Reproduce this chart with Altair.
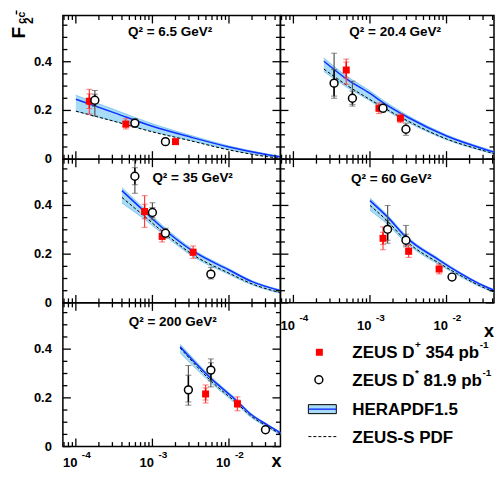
import altair as alt
import pandas as pd

FONT = "Liberation Sans"

# ---------------- data ----------------
TITLES = ["Q² = 6.5 GeV²", "Q² = 20.4 GeV²", "Q² = 35 GeV²", "Q² = 60 GeV²", "Q² = 200 GeV²"]

# ZEUS D+ 354 pb-1 (red squares): x, F2cc, stat (up, down), total (up, down)
P1_RED_X = [1.5e-4, 4.5e-4, 2.0e-3]
P1_RED_Y = [0.238, 0.144, 0.072]
P1_RED_STAT = [(0.03, 0.03), (0.012, 0.012), (0.005, 0.005)]
P1_RED_TOT = [(0.049, 0.053), (0.022, 0.02), (0.008, 0.008)]

P2_RED_X = [4.9e-4, 1.31e-3, 2.5e-3]
P2_RED_Y = [0.366, 0.209, 0.168]
P2_RED_STAT = [(0.033, 0.033), (0.012, 0.012), (0.01, 0.01)]
P2_RED_TOT = [(0.045, 0.058), (0.022, 0.022), (0.018, 0.018)]

P3_RED_X = [7.9e-4, 1.34e-3, 3.4e-3]
P3_RED_Y = [0.375, 0.273, 0.208]
P3_RED_STAT = [(0.03, 0.03), (0.012, 0.012), (0.012, 0.012)]
P3_RED_TOT = [(0.065, 0.065), (0.025, 0.023), (0.025, 0.025)]

P4_RED_X = [1.48e-3, 3.2e-3, 8.0e-3]
P4_RED_Y = [0.265, 0.212, 0.139]
P4_RED_STAT = [(0.025, 0.025), (0.013, 0.013), (0.01, 0.01)]
P4_RED_TOT = [(0.047, 0.047), (0.025, 0.025), (0.02, 0.02)]

P5_RED_X = [4.95e-3, 1.29e-2]
P5_RED_Y = [0.216, 0.176]
P5_RED_STAT = [(0.025, 0.025), (0.015, 0.015)]
P5_RED_TOT = [(0.037, 0.037), (0.028, 0.029)]

# ZEUS D* 81.9 pb-1 (open circles)
P1_BLK_X = [1.77e-4, 5.9e-4, 1.48e-3]
P1_BLK_Y = [0.242, 0.148, 0.072]
P1_BLK_STAT = [(0.025, 0.025), (0.012, 0.012), (0.006, 0.006)]
P1_BLK_TOT = [(0.04, 0.065), (0.018, 0.018), (0.01, 0.01)]

P2_BLK_X = [3.4e-4, 5.9e-4, 1.48e-3, 2.95e-3]
P2_BLK_Y = [0.312, 0.25, 0.209, 0.123]
P2_BLK_STAT = [(0.056, 0.053), (0.03, 0.025), (0.012, 0.012), (0.012, 0.012)]
P2_BLK_TOT = [(0.123, 0.062), (0.07, 0.032), (0.016, 0.016), (0.025, 0.025)]

P3_BLK_X = [5.9e-4, 1.0e-3, 1.48e-3, 5.8e-3]
P3_BLK_Y = [0.52, 0.371, 0.286, 0.118]
P3_BLK_STAT = [(0.035, 0.035), (0.02, 0.02), (0.01, 0.01), (0.012, 0.012)]
P3_BLK_TOT = [(0.064, 0.07), (0.04, 0.03), (0.02, 0.02), (0.028, 0.02)]

P4_BLK_X = [1.7e-3, 2.95e-3, 1.18e-2]
P4_BLK_Y = [0.302, 0.257, 0.106]
P4_BLK_STAT = [(0.037, 0.045), (0.025, 0.02), (0.006, 0.006)]
P4_BLK_TOT = [(0.098, 0.057), (0.061, 0.027), (0.012, 0.012)]

P5_BLK_X = [2.95e-3, 5.8e-3, 3.0e-2]
P5_BLK_Y = [0.233, 0.314, 0.069]
P5_BLK_STAT = [(0.06, 0.05), (0.03, 0.044), (0.006, 0.006)]
P5_BLK_TOT = [(0.1, 0.063), (0.046, 0.069), (0.012, 0.012)]

# HERAPDF1.5 (central line and band) and ZEUS-S PDF (dashed)
P1_CX = [1.0e-4, 3.2e-4, 1.0e-3, 3.2e-3, 1.0e-2, 3.2e-2, 5.0e-2]
P1_HERA = [0.246, 0.19, 0.135, 0.09, 0.05, 0.018, 0.008]
P1_HI = [0.262, 0.203, 0.145, 0.097, 0.054, 0.021, 0.011]
P1_LO = [0.197, 0.156, 0.114, 0.077, 0.040, 0.012, 0.005]
P1_ZEUS = [0.197, 0.155, 0.112, 0.075, 0.038, 0.01, 0.003]

P2_CX = [2.5e-4, 4.9e-4, 1.0e-3, 1.48e-3, 3.2e-3, 1.0e-2, 3.2e-2, 5.0e-2]
P2_HERA = [0.402, 0.33, 0.27, 0.232, 0.17, 0.095, 0.04, 0.022]
P2_HI = [0.415, 0.342, 0.28, 0.242, 0.177, 0.1, 0.044, 0.025]
P2_LO = [0.36, 0.297, 0.24, 0.208, 0.15, 0.08, 0.031, 0.015]
P2_ZEUS = [0.37, 0.305, 0.245, 0.213, 0.155, 0.083, 0.033, 0.016]

P3_CX = [4.0e-4, 7.9e-4, 1.58e-3, 3.4e-3, 1.0e-2, 2.0e-2, 5.0e-2]
P3_HERA = [0.461, 0.375, 0.29, 0.212, 0.135, 0.087, 0.048]
P3_HI = [0.473, 0.386, 0.299, 0.219, 0.14, 0.091, 0.051]
P3_LO = [0.41, 0.343, 0.267, 0.19, 0.117, 0.074, 0.037]
P3_ZEUS = [0.433, 0.355, 0.275, 0.197, 0.122, 0.078, 0.04]

P4_CX = [1.0e-3, 1.7e-3, 2.95e-3, 8.0e-3, 1.18e-2, 3.2e-2, 5.0e-2]
P4_HERA = [0.42, 0.352, 0.27, 0.176, 0.142, 0.067, 0.042]
P4_HI = [0.43, 0.36, 0.277, 0.181, 0.146, 0.07, 0.044]
P4_LO = [0.38, 0.322, 0.247, 0.157, 0.127, 0.057, 0.034]
P4_ZEUS = [0.40, 0.335, 0.255, 0.163, 0.132, 0.06, 0.036]

P5_CX = [2.3e-3, 5.8e-3, 1.29e-2, 1.86e-2, 3.2e-2, 5.0e-2]
P5_HERA = [0.41, 0.28, 0.185, 0.137, 0.088, 0.052]
P5_HI = [0.42, 0.287, 0.19, 0.141, 0.091, 0.054]
P5_LO = [0.385, 0.262, 0.17, 0.125, 0.078, 0.044]
P5_ZEUS = [0.405, 0.27, 0.176, 0.13, 0.082, 0.047]

# axis ticks and labels
X_MAJOR = [1e-4, 1e-3, 1e-2]
X_MAJOR_SUP = ["-4", "-3", "-2"]
X_MINOR = [7e-5, 8e-5, 9e-5,
           2e-4, 3e-4, 4e-4, 5e-4, 6e-4, 7e-4, 8e-4, 9e-4,
           2e-3, 3e-3, 4e-3, 5e-3, 6e-3, 7e-3, 8e-3, 9e-3,
           2e-2, 3e-2, 4e-2]
Y_MAJOR = [0.0, 0.2, 0.4]
Y_MAJOR_LAB = ["0", "0.2", "0.4"]
Y_MINOR = [0.05, 0.1, 0.15, 0.25, 0.3, 0.35, 0.45, 0.5, 0.55]

XMIN = 6.77e-5
XMAX_LEFT, XMAX_RIGHT = 0.047, 0.0417
YMAX = 0.59

PANELS = [
    (P1_RED_X, P1_RED_Y, P1_RED_STAT, P1_RED_TOT, P1_BLK_X, P1_BLK_Y, P1_BLK_STAT, P1_BLK_TOT, P1_CX, P1_HERA, P1_HI, P1_LO, P1_ZEUS),
    (P2_RED_X, P2_RED_Y, P2_RED_STAT, P2_RED_TOT, P2_BLK_X, P2_BLK_Y, P2_BLK_STAT, P2_BLK_TOT, P2_CX, P2_HERA, P2_HI, P2_LO, P2_ZEUS),
    (P3_RED_X, P3_RED_Y, P3_RED_STAT, P3_RED_TOT, P3_BLK_X, P3_BLK_Y, P3_BLK_STAT, P3_BLK_TOT, P3_CX, P3_HERA, P3_HI, P3_LO, P3_ZEUS),
    (P4_RED_X, P4_RED_Y, P4_RED_STAT, P4_RED_TOT, P4_BLK_X, P4_BLK_Y, P4_BLK_STAT, P4_BLK_TOT, P4_CX, P4_HERA, P4_HI, P4_LO, P4_ZEUS),
    (P5_RED_X, P5_RED_Y, P5_RED_STAT, P5_RED_TOT, P5_BLK_X, P5_BLK_Y, P5_BLK_STAT, P5_BLK_TOT, P5_CX, P5_HERA, P5_HI, P5_LO, P5_ZEUS),
]

# ---------------- layout/style ----------------
H = 144
W_L, W_R = 218, 214
TITLE_POS = [(107.5, 21), (115, 21), (130, 23), (111, 24), (110, 23.5)]
RED = "#ff0000"
RED_TOT = "#ff4040"
BLUE = "#1030ff"
BAND = "#a8dcf6"
BAND_EDGE = "#6cc0ee"
MAJ, MIN = 8, 4.5
DUMMY = pd.DataFrame({"d": [0]})


def txt(text, x, y, size, align="left", angle=None, baseline="alphabetic"):
    kw = dict(text=text, align=align, baseline=baseline, fontSize=size,
              font=FONT, fontWeight="bold", color="black")
    if angle is not None:
        kw["angle"] = angle
    return alt.Chart(DUMMY).mark_text(**kw).encode(x=alt.value(x), y=alt.value(y))


def err_frames(xs, ys, stat, tot):
    rows, caps = [], []
    for x, y, (su, sd), (tu, td) in zip(xs, ys, stat, tot):
        rows.append(dict(x=x, y=y, slo=y - sd, shi=y + su, tlo=y - td, thi=y + tu))
        for c in (y - sd, y + su, y - td, y + tu):
            caps.append(dict(x=x, c=c))
    return pd.DataFrame(rows), pd.DataFrame(caps)


def make_panel(i):
    (rx, ry, rs, rt, bx, by, bs, bt, cx, hera, hi, lo, zeus) = PANELS[i]
    left = i in (0, 2, 4)
    W = W_L if left else W_R
    xmax = XMAX_LEFT if left else XMAX_RIGHT
    xs = alt.Scale(type="log", domain=[XMIN, xmax], nice=False)
    ys = alt.Scale(domain=[0, YMAX], nice=False, zero=False)

    def X(f):
        return alt.X(f, type="quantitative", scale=xs, axis=None)

    def Y(f):
        return alt.Y(f, type="quantitative", scale=ys, axis=None)

    curve = pd.DataFrame(dict(x=cx, hera=hera, hi=hi, lo=lo, zeus=zeus))
    layers = [
        alt.Chart(curve).mark_area(color=BAND, opacity=1, interpolate="monotone", clip=True)
        .encode(x=X("x"), y=Y("hi"), y2=alt.Y2("lo")),
        alt.Chart(curve).mark_line(color=BAND_EDGE, strokeWidth=0.8, interpolate="monotone", clip=True)
        .encode(x=X("x"), y=Y("hi")),
        alt.Chart(curve).mark_line(color=BAND_EDGE, strokeWidth=0.8, interpolate="monotone", clip=True)
        .encode(x=X("x"), y=Y("lo")),
        alt.Chart(curve).mark_line(color="black", strokeWidth=1, strokeDash=[3, 2],
                                   interpolate="monotone", clip=True)
        .encode(x=X("x"), y=Y("zeus")),
        alt.Chart(curve).mark_line(color=BLUE, strokeWidth=1.5, interpolate="monotone", clip=True)
        .encode(x=X("x"), y=Y("hera")),
    ]
    for (px, py, ps, pt, ctot, cstat) in ((bx, by, bs, bt, "#555555", "black"),
                                          (rx, ry, rs, rt, RED_TOT, RED)):
        pts, caps = err_frames(px, py, ps, pt)
        layers += [
            alt.Chart(pts).mark_rule(color=ctot, strokeWidth=1.2)
            .encode(x=X("x"), y=Y("tlo"), y2=alt.Y2("thi")),
            alt.Chart(pts).mark_rule(color=cstat, strokeWidth=1.5)
            .encode(x=X("x"), y=Y("slo"), y2=alt.Y2("shi")),
            alt.Chart(caps).mark_tick(orient="horizontal", size=6, thickness=1, color=ctot)
            .encode(x=X("x"), y=Y("c")),
        ]
    pts_r, _ = err_frames(rx, ry, rs, rt)
    pts_b, _ = err_frames(bx, by, bs, bt)
    layers += [
        alt.Chart(pts_r).mark_square(size=49, color=RED, opacity=1).encode(x=X("x"), y=Y("y")),
        alt.Chart(pts_b).mark_point(shape="circle", size=62, filled=True, fill="white",
                                    stroke="black", strokeWidth=1.5, opacity=1)
        .encode(x=X("x"), y=Y("y")),
    ]
    # inward ticks on all four sides (short rules)
    xmaj = pd.DataFrame({"v": X_MAJOR})
    xmin = pd.DataFrame({"v": X_MINOR})
    ymaj = pd.DataFrame({"v": Y_MAJOR})
    ymin = pd.DataFrame({"v": Y_MINOR})
    for df, L in ((xmaj, MAJ), (xmin, MIN)):
        layers.append(alt.Chart(df).mark_rule(color="black", strokeWidth=1.3)
                      .encode(x=X("v"), y=alt.value(H), y2=alt.value(H - L)))
        layers.append(alt.Chart(df).mark_rule(color="black", strokeWidth=1.3)
                      .encode(x=X("v"), y=alt.value(0), y2=alt.value(L)))
    for df, L in ((ymaj, MAJ), (ymin, MIN)):
        layers.append(alt.Chart(df).mark_rule(color="black", strokeWidth=1.3)
                      .encode(y=Y("v"), x=alt.value(0), x2=alt.value(L)))
        layers.append(alt.Chart(df).mark_rule(color="black", strokeWidth=1.3)
                      .encode(y=Y("v"), x=alt.value(W), x2=alt.value(W - L)))
    # panel title
    tx, ty = TITLE_POS[i]
    layers.append(txt(TITLES[i], tx, ty, 13.5, align="center"))
    # y labels for left column
    if left:
        ylab = pd.DataFrame({"v": Y_MAJOR, "lab": Y_MAJOR_LAB})
        layers.append(alt.Chart(ylab).mark_text(align="right", baseline="middle", fontSize=13,
                                                font=FONT, fontWeight="bold", color="black")
                      .encode(y=Y("v"), x=alt.value(-11), text="lab:N"))
    # x labels for panels with nothing below
    if i in (3, 4):
        base = H + (20 if i == 4 else 27)
        xlab = pd.DataFrame({"v": X_MAJOR, "sup": X_MAJOR_SUP, "ten": ["10"] * 3})
        layers.append(alt.Chart(xlab).mark_text(align="right", baseline="alphabetic", fontSize=13,
                                                font=FONT, fontWeight="bold", dx=1.5, color="black")
                      .encode(x=X("v"), y=alt.value(base), text="ten:N"))
        layers.append(alt.Chart(xlab).mark_text(align="left", baseline="alphabetic", fontSize=10,
                                                font=FONT, fontWeight="bold", dx=6, color="black")
                      .encode(x=X("v"), y=alt.value(base - 8.5), text="sup:N"))
        xt = (214, H + 20.5) if i == 4 else (209, H + 34)
        layers.append(txt("x", xt[0], xt[1], 18, align="center"))
    if i == 0:
        # y-axis title F2 cc-bar, rotated
        layers.append(txt("F", -38, 23, 19, angle=270))
        layers.append(txt("2", -30, 8.5, 12, angle=270))
        layers.append(txt("cc", -38, 8.5, 11, angle=270))
        layers.append(alt.Chart(DUMMY).mark_rule(color="black", strokeWidth=1.4)
                      .encode(x=alt.value(-46.5), y=alt.value(-5), y2=alt.value(-1)))
    return alt.layer(*layers).properties(width=W, height=H)


def make_legend():
    L = []
    L.append(alt.Chart(DUMMY).mark_square(size=49, color=RED, opacity=1)
             .encode(x=alt.value(39), y=alt.value(49.5)))
    L.append(alt.Chart(DUMMY).mark_point(shape="circle", size=62, filled=True, fill="white",
                                         stroke="black", strokeWidth=1.5, opacity=1)
             .encode(x=alt.value(38.5), y=alt.value(77)))
    L.append(alt.Chart(DUMMY).mark_rect(fill=BAND, stroke="black", strokeWidth=1)
             .encode(x=alt.value(28), x2=alt.value(56), y=alt.value(102), y2=alt.value(111)))
    L.append(alt.Chart(DUMMY).mark_rule(color=BLUE, strokeWidth=1.4)
             .encode(x=alt.value(28), x2=alt.value(56), y=alt.value(106.5)))
    L.append(alt.Chart(DUMMY).mark_rule(color="black", strokeWidth=1, strokeDash=[3, 2])
             .encode(x=alt.value(28), x2=alt.value(56), y=alt.value(134)))
    fs, ss = 17, 10
    L += [
        txt("ZEUS D", 72, 55, fs), txt("+", 134.8, 45.5, ss),
        txt("354 pb", 145.3, 55, fs), txt("-1", 199.7, 45, ss),
        txt("ZEUS D", 72, 83, fs), txt("*", 134.8, 73.5, ss),
        txt("81.9 pb", 143.4, 83, fs), txt("-1", 202.5, 73, ss),
        txt("HERAPDF1.5", 72, 112, fs),
        txt("ZEUS-S PDF", 72, 140, fs),
    ]
    return alt.layer(*L).properties(width=W_R, height=H,
                                    view=alt.ViewBackground(stroke="transparent"))


charts = [make_panel(i) for i in range(5)] + [make_legend()]
chart = alt.concat(*charts, columns=2, spacing=0, bounds="flush").properties(
    padding={"left": 1, "top": 0, "right": 0, "bottom": 0}
).configure(font=FONT).configure_view(stroke="black", strokeWidth=1.5)

chart.save("out.html", embed_options={"renderer": "svg", "actions": False})
